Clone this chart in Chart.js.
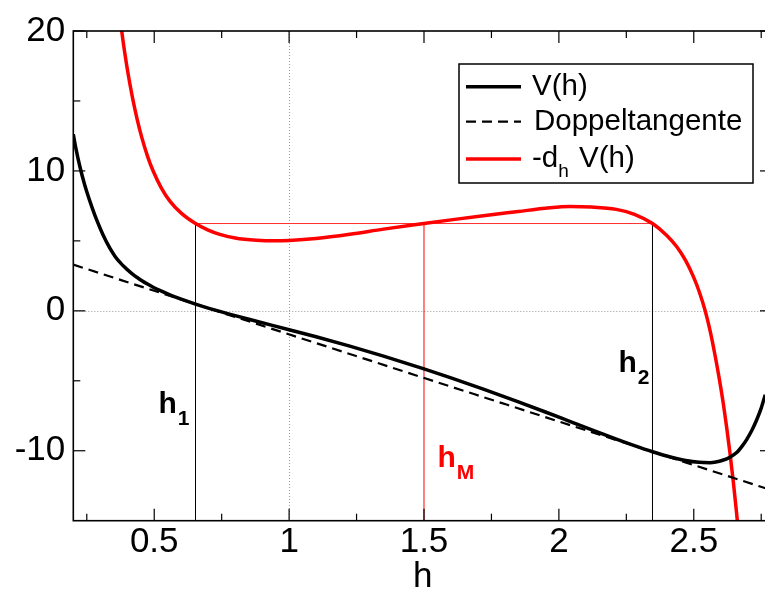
<!DOCTYPE html>
<html>
<head>
<meta charset="utf-8">
<script src="https://cdn.jsdelivr.net/npm/chart.js@4"></script>
<style>
  html, body { margin: 0; padding: 0; overflow: hidden; background: #fff; }
  canvas { display: block; }
</style>
</head>
<body>
<canvas id="chart" width="772" height="592"></canvas>
<script>
// V(h), Doppeltangente und -d_h V(h)

const hV = [0.2, 0.21, 0.225, 0.24, 0.25, 0.27, 0.287, 0.31, 0.336, 0.355, 0.37, 0.379, 0.39, 0.398,
            0.41, 0.422, 0.437, 0.453, 0.475, 0.496, 0.525, 0.558, 0.6, 0.653, 0.7, 0.8, 0.879, 1.0,
            1.1, 1.225, 1.35, 1.5, 1.6, 1.72, 1.85, 1.95, 2.04, 2.12, 2.213, 2.28, 2.347, 2.4, 2.47,
            2.52, 2.56, 2.61, 2.634, 2.659, 2.68, 2.696, 2.715, 2.733, 2.75, 2.765];
const V = [12.62, 11.58, 10.26, 9.15, 8.51, 7.36, 6.48, 5.44, 4.46, 3.89, 3.53, 3.34, 3.13, 2.98,
           2.78, 2.59, 2.38, 2.17, 1.91, 1.69, 1.42, 1.14, 0.83, 0.48, 0.198, -0.343, -0.744, -1.348,
           -1.857, -2.527, -3.239, -4.148, -4.786, -5.59, -6.504, -7.231, -7.897, -8.489, -9.168, -9.638, -10.074, -10.38, -10.70,
           -10.83, -10.85, -10.66, -10.46, -10.13, -9.65, -9.2, -8.55, -7.8, -6.95, -6.0];

const hF = [0.37, 0.379, 0.39, 0.398, 0.41, 0.422, 0.437, 0.453, 0.475, 0.496, 0.525, 0.558, 0.6, 0.653,
            0.7, 0.743, 0.8, 0.879, 0.95, 1.0, 1.1, 1.225, 1.35, 1.5, 1.6, 1.72, 1.85, 1.95, 2.04, 2.12,
            2.213, 2.28, 2.347, 2.4, 2.437, 2.47, 2.499, 2.52, 2.542, 2.56, 2.579, 2.595, 2.61, 2.622,
            2.634, 2.647, 2.659, 2.668];
const F = [21.51, 20.07, 18.53, 17.53, 16.19, 14.99, 13.67, 12.45, 11.06, 9.99, 8.83, 7.84, 6.98, 6.24,
           5.77, 5.46, 5.2, 5.04, 5.0, 5.03, 5.17, 5.47, 5.84, 6.24, 6.5, 6.8, 7.1, 7.33, 7.46, 7.42,
           7.25, 6.9, 6.24, 5.39, 4.58, 3.59, 2.43, 1.38, 0.02, -1.38, -3.19, -4.9, -6.7, -8.34,
           -10.14, -12.29, -14.51, -16.31];

const hT = [0.2, 2.79];
const T = [3.30, -12.83];

const h1 = 0.653, h2 = 2.347, hM = 1.5;
const plateau = 6.24;

const xRange = [0.2, 2.79];
const yRange = [-15, 20];
const xTicks = [0.5, 1, 1.5, 2, 2.5];
const xTickLabels = ['0.5', '1', '1.5', '2', '2.5'];
const xMinor = [0.25, 0.75, 1.25, 1.75, 2.25, 2.75];
const yTicks = [-10, 0, 10, 20];
const yTickLabels = ['-10', '0', '10', '20'];
const yMinor = [-5, 5, 15];
const xZero = [1];
const yZero = [0];

const toXY = (xs, ys) => xs.map((x, i) => ({ x: x, y: ys[i] }));

const FONT = 'Liberation Sans, Arial, sans-serif';

function line(ctx, x1, y1, x2, y2) {
    ctx.beginPath();
    ctx.moveTo(x1, y1);
    ctx.lineTo(x2, y2);
    ctx.stroke();
}

// frame, inward ticks, zero lines, h labels and legend
const decor = {
    id: 'decor',
    beforeDatasetsDraw(chart) {
        const { ctx, chartArea: a, scales: { x, y } } = chart;
        ctx.save();
        ctx.strokeStyle = '#9a9a9a';
        ctx.lineWidth = 1;
        ctx.setLineDash([1, 2]);
        xZero.forEach(v => {
            const px = Math.round(x.getPixelForValue(v)) + 0.5;
            line(ctx, px, a.top, px, a.bottom);
        });
        yZero.forEach(v => {
            const py = Math.round(y.getPixelForValue(v)) + 0.5;
            line(ctx, a.left, py, a.right, py);
        });
        ctx.restore();
    },
    afterDatasetsDraw(chart) {
        const { ctx, chartArea: a, scales: { x, y } } = chart;
        ctx.save();
        ctx.strokeStyle = '#000';
        ctx.lineWidth = 1.2;

        const tickSet = (vals, len) => {
            vals.forEach(v => {
                const px = x.getPixelForValue(v);
                line(ctx, px, a.bottom, px, a.bottom - len);
                line(ctx, px, a.top, px, a.top + len);
            });
        };
        const tickSetY = (vals, len) => {
            vals.forEach(v => {
                const py = y.getPixelForValue(v);
                line(ctx, a.left, py, a.left + len, py);
                line(ctx, a.right, py, a.right - len, py);
            });
        };
        tickSet(xTicks, 12);
        tickSet(xMinor, 7);
        tickSetY(yTicks, 12);
        tickSetY(yMinor, 7);

        ctx.lineWidth = 1.6;
        ctx.strokeRect(a.left, a.top, a.right - a.left, a.bottom - a.top);

        // h1, h2, hM labels
        const labels = [
            { sub: '1', at: h1, dx: -37, yv: -7.3, color: '#000' },
            { sub: '2', at: h2, dx: -34, yv: -4.36, color: '#000' },
            { sub: 'M', at: hM, dx: 13.4, yv: -11.14, color: '#ff0000' }
        ];
        ctx.textBaseline = 'alphabetic';
        ctx.textAlign = 'left';
        labels.forEach(l => {
            const px = x.getPixelForValue(l.at) + l.dx;
            const py = y.getPixelForValue(l.yv);
            ctx.fillStyle = l.color;
            ctx.font = 'bold 30px ' + FONT;
            ctx.fillText('h', px, py);
            const w = ctx.measureText('h').width;
            ctx.font = 'bold 21px ' + FONT;
            ctx.fillText(l.sub, px + w + 1, py + 12);
        });

        // legend
        const lx = 459, ly = 64, lw = 294, lh = 119;
        ctx.fillStyle = '#fff';
        ctx.fillRect(lx, ly, lw, lh);
        ctx.strokeStyle = '#000';
        ctx.lineWidth = 1.5;
        ctx.strokeRect(lx, ly, lw, lh);

        const ds = chart.data.datasets;
        const rows = [
            { d: ds[0], y: 86.7 },
            { d: ds[1], y: 121.7 },
            { d: ds[2], y: 159 }
        ];
        rows.forEach(r => {
            ctx.strokeStyle = r.d.borderColor;
            ctx.lineWidth = r.d.borderWidth;
            ctx.setLineDash(r.d.borderDash || []);
            line(ctx, 466, r.y, 521, r.y);
        });
        ctx.setLineDash([]);
        ctx.fillStyle = '#000';
        ctx.font = '29.5px ' + FONT;
        ctx.fillText('V(h)', 532, 95);
        ctx.fillText('Doppeltangente', 534, 130);
        ctx.fillText('-d', 532, 167);
        let tx = 532 + ctx.measureText('-d').width;
        ctx.font = '19px ' + FONT;
        ctx.fillText('h', tx, 176.5);
        tx += ctx.measureText('h').width;
        ctx.font = '29.5px ' + FONT;
        ctx.fillText(' V(h)', tx + 2, 167);
        ctx.restore();
    }
};

const curve = {
    showLine: true,
    pointRadius: 0,
    fill: false,
    cubicInterpolationMode: 'monotone',
    clip: 0
};
const thin = {
    showLine: true,
    pointRadius: 0,
    fill: false,
    borderWidth: 1,
    clip: 0
};

new Chart(document.getElementById('chart'), {
    type: 'scatter',
    data: {
        datasets: [
            Object.assign({ label: 'V(h)', data: toXY(hV, V), borderColor: '#000', borderWidth: 3.5 }, curve),
            Object.assign({ label: 'Doppeltangente', data: toXY(hT, T), borderColor: '#000', borderWidth: 2.2,
                            borderDash: [10, 6] }, curve),
            Object.assign({ label: '-d_h V(h)', data: toXY(hF, F), borderColor: '#ff0000', borderWidth: 3.5 }, curve),
            Object.assign({ data: [{ x: h1, y: yRange[0] }, { x: h1, y: plateau }], borderColor: '#000' }, thin),
            Object.assign({ data: [{ x: h2, y: yRange[0] }, { x: h2, y: plateau }], borderColor: '#000' }, thin),
            Object.assign({ data: [{ x: hM, y: yRange[0] }, { x: hM, y: plateau }], borderColor: '#ff0000' }, thin),
            Object.assign({ data: [{ x: h1, y: plateau }, { x: h2, y: plateau }], borderColor: '#ff3030' }, thin)
        ]
    },
    options: {
        responsive: false,
        animation: false,
        devicePixelRatio: 1,
        layout: { padding: { top: 31, right: 0, bottom: 0, left: 0 } },
        elements: { line: { capBezierPoints: false } },
        plugins: {
            legend: { display: false },
            tooltip: { enabled: false }
        },
        scales: {
            x: {
                type: 'linear',
                min: xRange[0],
                max: xRange[1],
                grid: { display: false, drawTicks: false },
                border: { display: false },
                afterBuildTicks: s => { s.ticks = xTicks.map(v => ({ value: v })); },
                afterFit: s => { s.height = 71.3; },
                ticks: {
                    padding: 1,
                    color: '#000',
                    maxRotation: 0,
                    callback: (v, i) => xTickLabels[i],
                    font: { family: FONT, size: 35 }
                },
                title: {
                    display: true,
                    text: 'h',
                    color: '#000',
                    padding: 0,
                    font: { family: FONT, size: 35, lineHeight: 0.86 }
                }
            },
            y: {
                type: 'linear',
                min: yRange[0],
                max: yRange[1],
                grid: { display: false, drawTicks: false },
                border: { display: false },
                afterBuildTicks: s => { s.ticks = yTicks.map(v => ({ value: v })); },
                afterFit: s => { s.width = 73.3; },
                ticks: {
                    padding: 8,
                    color: '#000',
                    callback: (v, i) => yTickLabels[i],
                    font: { family: FONT, size: 35 }
                }
            }
        }
    },
    plugins: [decor]
});
</script>
</body>
</html>
